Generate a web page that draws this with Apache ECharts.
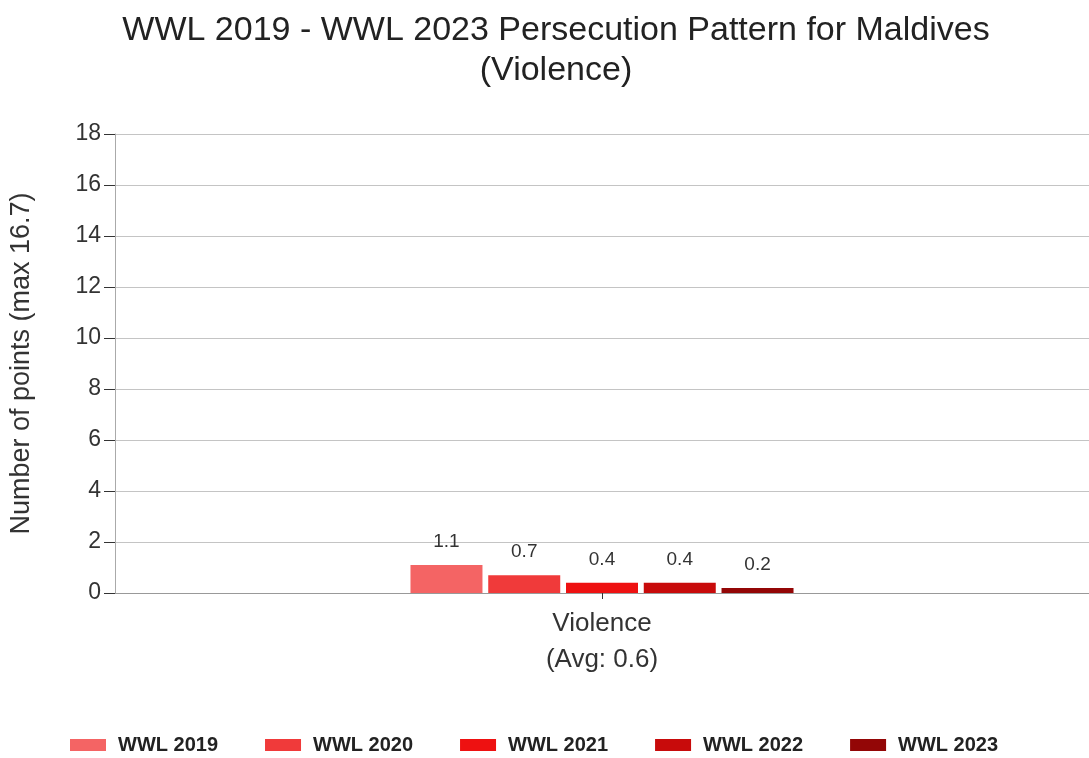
<!DOCTYPE html>
<html>
<head>
<meta charset="utf-8">
<script src="https://cdn.jsdelivr.net/npm/echarts@6/dist/echarts.min.js"></script>
<style>
  html, body { margin: 0; padding: 0; background: #fff; }
  #chart { width: 1089px; height: 758px; }
</style>
</head>
<body>
<div id="chart"></div>
<script>
const categories = ['Violence\n(Avg: 0.6)']
const years = ['WWL 2019', 'WWL 2020', 'WWL 2021', 'WWL 2022', 'WWL 2023']
const values = [1.1, 0.7, 0.4, 0.4, 0.2]
const colors = ['#f46464', '#f03a3a', '#ee1111', '#c80b0b', '#930606']
const yTicks = [0, 2, 4, 6, 8, 10, 12, 14, 16, 18]

const myChart = echarts.init(document.getElementById('chart'))

const series = years.map((name, i) => ({
  name: name,
  type: 'bar',
  data: [values[i]],
  itemStyle: { color: colors[i] },
  barWidth: 72,
  barGap: '8%',
  label: {
    show: true,
    position: 'top',
    distance: 14,
    color: '#333',
    fontSize: 19,
    fontFamily: 'Liberation Sans',
    formatter: p => p.value.toFixed(1)
  }
}))

myChart.setOption({
  backgroundColor: '#fff',
  animation: false,
  title: {
    text: 'WWL 2019 - WWL 2023 Persecution Pattern for Maldives\n(Violence)',
    left: 551,
    top: 6,
    textAlign: 'center',
    textStyle: {
      color: '#222',
      fontSize: 34,
      fontWeight: 'normal',
      fontFamily: 'Liberation Sans',
      lineHeight: 40
    }
  },
  grid: {
    left: 113,
    right: -3,
    top: 134,
    bottom: 165
  },
  legend: {
    data: years,
    top: 730,
    left: 65,
    itemWidth: 36,
    itemHeight: 12,
    itemGap: 47,
    icon: 'rect',
    textStyle: {
      color: '#222',
      fontSize: 20,
      fontWeight: 'bold',
      fontFamily: 'Liberation Sans',
      padding: [0, 0, 0, 7]
    }
  },
  xAxis: {
    type: 'category',
    data: categories,
    axisLine: { lineStyle: { color: '#999', width: 1 } },
    axisTick: { show: true, alignWithLabel: true, length: 6, lineStyle: { color: '#333' } },
    axisLabel: {
      color: '#333',
      fontSize: 26,
      fontFamily: 'Liberation Sans',
      lineHeight: 36,
      margin: 13
    }
  },
  yAxis: {
    type: 'value',
    min: 0,
    max: yTicks[yTicks.length - 1],
    interval: 2,
    name: 'Number of points (max 16.7)',
    nameLocation: 'middle',
    nameGap: 80,
    nameTextStyle: {
      color: '#333',
      fontSize: 27,
      fontFamily: 'Liberation Sans'
    },
    axisLine: { show: true, lineStyle: { color: '#aaa', width: 1 } },
    axisTick: { show: true, length: 11, lineStyle: { color: '#333' } },
    splitLine: { lineStyle: { color: '#c4c4c4', width: 1 } },
    axisLabel: {
      color: '#333',
      fontSize: 23,
      fontFamily: 'Liberation Sans',
      margin: 14
    }
  },
  series: series
})
</script>
</body>
</html>
